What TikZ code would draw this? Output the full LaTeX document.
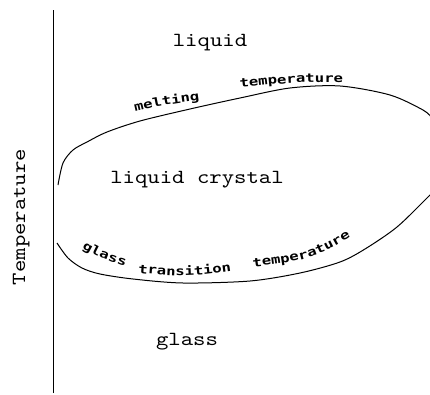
\documentclass[tikz,border=0pt]{standalone}
\usepackage{fontspec}
\newfontfamily\labelfont{lmmono10-regular.otf}[FakeStretch=1.18]
\newfontfamily\plotfont{DejaVu Sans Mono}[FakeStretch=1.3]
\usetikzlibrary{decorations.text}
\newcommand{\pfont}{\plotfont\bfseries\fontsize{12}{12}\selectfont}
\begin{document}
\begin{tikzpicture}[x=1pt,y=1pt]
\useasboundingbox (0,0) rectangle (430,394);
\tikzset{
  curve/.style={line width=1pt},
  region/.style={font=\labelfont\fontsize{20}{24}\selectfont, anchor=base, inner sep=0pt},
  curvetext/.style={decorate, decoration={text along path, text={|\pfont|#1}}}
}
\coordinate (axB) at (53,1);
\coordinate (axT) at (53,384);
\draw[line width=0.9pt] (axB) -- (axT);
% melting temperature curve
\draw[curve]
  plot[smooth] coordinates {(58,209) (63,231) (73,244) (87,252) (107,262) (140,273) (190,285) (240,296) (290,306) (340,308) (390,299) (423,284) (432,276)};
\path[curvetext={melting}] (135,282) .. controls (165,289) .. (210,295);
\path[curvetext={temperature}] (240,306) .. controls (295,312) .. (360,312);
% glass transition temperature curve
\draw[curve]
  plot[smooth] coordinates {(57,151) (68,136) (82,126) (100,120) (133,115) (183,111) (250,113) (300,121) (340,132) (365,145) (397,167) (428,197) (432,201)};
\path[curvetext={glass}] (82,146) .. controls (100,136) .. (135,125);
\path[curvetext={transition}] (138,121) .. controls (188,117) .. (245,125);
\path[curvetext={temperature}] (253,127) .. controls (315,135) .. (372,170);
\node[region] (liq) at (210,347) {liquid};
\node[region] (lc) at (197,211) {liquid crystal};
\node[region] (gl) at (187,49) {glass};
\node[region, rotate=90] (temp) at (25,177) {Temperature};
\end{tikzpicture}
\end{document}
